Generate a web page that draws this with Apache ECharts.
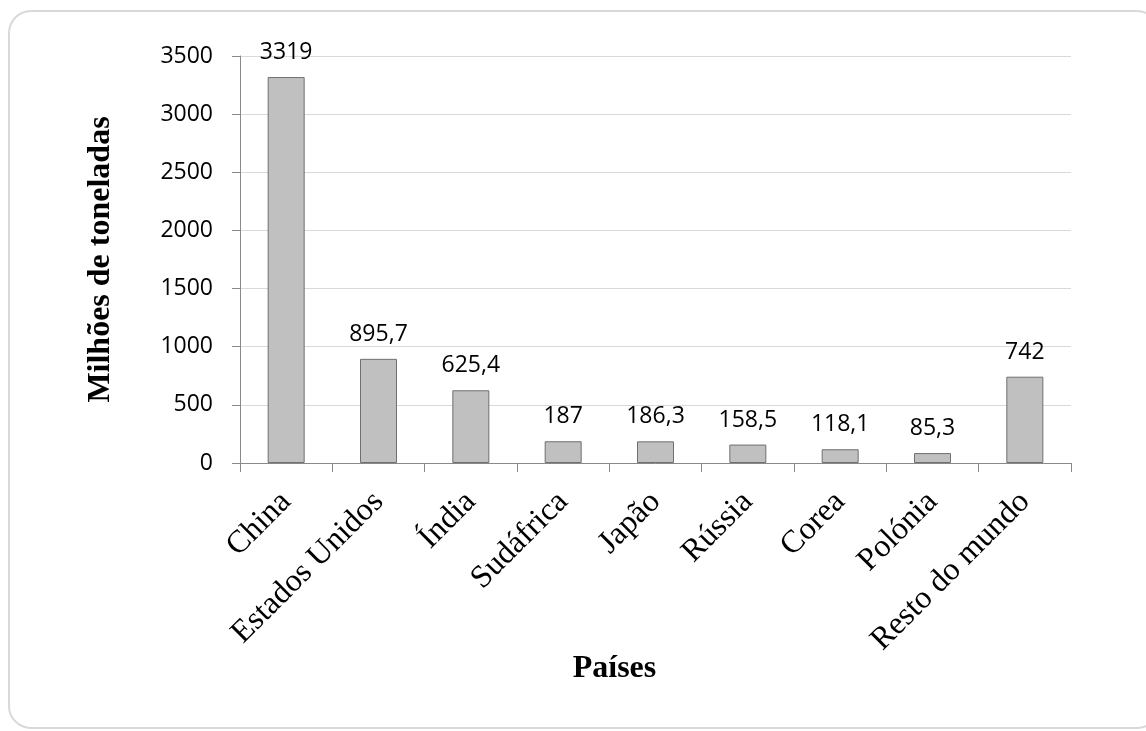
<!DOCTYPE html>
<html>
<head>
<meta charset="utf-8">
<script src="https://cdn.jsdelivr.net/npm/echarts@6/dist/echarts.min.js"></script>
<style>
html,body{margin:0;padding:0;background:#fff;}
#chart{width:1146px;height:731px;}
</style>
</head>
<body>
<div id="chart"></div>
<script>
const categories = ['China', 'Estados Unidos', 'Índia', 'Sudáfrica', 'Japão', 'Rússia', 'Corea', 'Polónia', 'Resto do mundo'];
const values = [3319, 895.7, 625.4, 187, 186.3, 158.5, 118.1, 85.3, 742];
const yTicks = { min: 0, max: 3500, interval: 500 };
const yTitle = 'Milhões de toneladas';
const xTitle = 'Países';

const chart = echarts.init(document.getElementById('chart'), null, { renderer: 'canvas' });
chart.setOption({
  backgroundColor: '#ffffff',
  animation: false,
  graphic: [{
    type: 'rect',
    shape: { x: 9, y: 11, width: 1150, height: 717, r: 22 },
    style: { fill: 'none', stroke: '#d9d9d9', lineWidth: 2 },
    silent: true, z: -1
  }],
  grid: { left: 240, right: 75, top: 56, bottom: 268, containLabel: false },
  xAxis: {
    type: 'category',
    data: categories,
    name: xTitle,
    nameLocation: 'middle',
    nameGap: 190,
    nameMoveOverlap: false,
    nameTextStyle: { fontFamily: 'Liberation Serif', fontWeight: 'bold', fontSize: 32, color: '#000', padding: [0, 82, 0, 0] },
    axisLine: { lineStyle: { color: '#898989', width: 1 } },
    axisTick: { show: true, length: 9, lineStyle: { color: '#898989' } },
    axisLabel: { rotate: 45, margin: 34, fontFamily: 'Liberation Serif', fontSize: 32, color: '#000', interval: 0 }
  },
  yAxis: {
    type: 'value',
    min: yTicks.min, max: yTicks.max, interval: yTicks.interval,
    name: yTitle,
    nameLocation: 'middle',
    nameRotate: 90,
    nameGap: 123,
    nameMoveOverlap: false,
    nameTextStyle: { fontFamily: 'Liberation Serif', fontWeight: 'bold', fontSize: 32, color: '#000' },
    axisLine: { show: true, lineStyle: { color: '#898989', width: 1 } },
    axisTick: { show: true, length: 8, lineStyle: { color: '#898989' } },
    axisLabel: { margin: 27, fontFamily: 'Open Sans', fontSize: 23, color: '#000', formatter: v => String(v) },
    splitLine: { show: true, lineStyle: { color: '#d9d9d9', width: 1 } }
  },
  series: [{
    type: 'bar',
    data: values,
    barWidth: 37,
    itemStyle: { color: '#c0c0c0', borderColor: '#6f6f6f', borderWidth: 1 },
    label: {
      show: true, position: 'top', distance: 13,
      fontFamily: 'Open Sans', fontSize: 23, color: '#000',
      formatter: p => String(p.value).replace('.', ',')
    }
  }]
});
</script>
</body>
</html>
